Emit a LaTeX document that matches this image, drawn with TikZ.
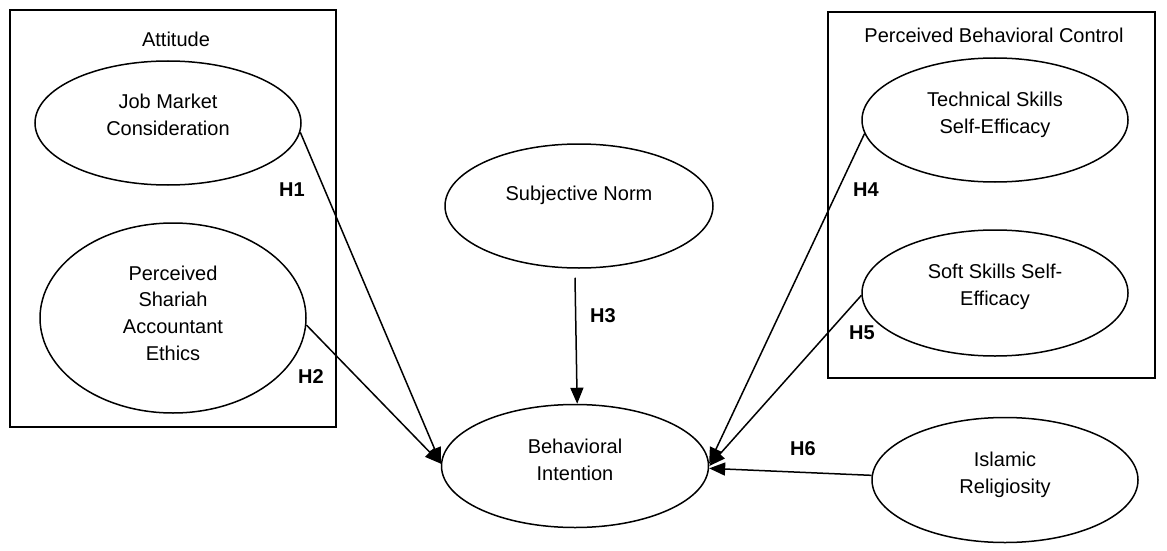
\documentclass[tikz,border=0pt]{standalone}
\usepackage{fontspec}
\setmainfont{Liberation Sans}
\usetikzlibrary{shapes.geometric,arrows.meta}
\begin{document}
\begin{tikzpicture}[x=1pt,y=-1pt,
  lw/.style={line width=1.5pt},
  ell/.style={draw, ellipse, inner sep=0pt, lw},
  txt/.style={align=center, font=\fontsize{20}{26.7}\selectfont},
  hlab/.style={font=\fontsize{20}{24}\selectfont\bfseries},
  arr/.style={lw, -{Triangle[length=16pt,width=13pt]}},
  grp/.style={draw, lw}]
\useasboundingbox (0,0) rectangle (1167,551);
% group boxes
\draw[grp] (10,10) rectangle (336,427);
\draw[grp] (828,12) rectangle (1155,378);
\node[txt] (attT) at (176,39) {Attitude};
\node[txt] (pbcT) at (994,35) {Perceived Behavioral Control};
% ellipses
\node[ell, minimum width=266pt, minimum height=124pt] (jmc) at (168,123) {};
\node[ell, minimum width=266pt, minimum height=190pt] (psae) at (173,318) {};
\node[ell, minimum width=268pt, minimum height=124pt] (sn) at (579,206) {};
\node[ell, minimum width=267pt, minimum height=123pt] (bi) at (575,466) {};
\node[ell, minimum width=266pt, minimum height=124pt] (tsse) at (995,120) {};
\node[ell, minimum width=266pt, minimum height=126pt] (ssse) at (995,293) {};
\node[ell, minimum width=266pt, minimum height=125pt] (ir) at (1005,480) {};
% texts
\node[txt] (jmcT) at (168,115) {Job Market\\Consideration};
\node[txt] (psaeT) at (173,313) {Perceived\\Shariah\\Accountant\\Ethics};
\node[txt] (snT) at (579,195) {Subjective Norm};
\node[txt] (biT) at (575,459.5) {Behavioral\\Intention};
\node[txt] (tsseT) at (995,115) {Technical Skills\\Self-Efficacy};
\node[txt] (ssseT) at (995,286.5) {Soft Skills Self-\\Efficacy};
\node[txt] (irT) at (1005,475) {Islamic\\Religiosity};
% arrows
\draw[arr] (jmc.-4) -- (bi.179);
\draw[arr] (psae.-3) -- (bi.179);
\draw[arr] ([xshift=-4pt,yshift=-9pt]sn.south) -- (bi.88);
\draw[arr] (tsse.186) -- (bi.1);
\draw[arr] (ssse.181) -- (bi.0);
\draw[arr] (ir.178) -- (bi.-1);
% hypothesis labels
\node[hlab] (h1) at (292,190) {H1};
\node[hlab] (h2) at (311,377) {H2};
\node[hlab] (h3) at (603,316) {H3};
\node[hlab] (h4) at (866,190) {H4};
\node[hlab] (h5) at (862,333) {H5};
\node[hlab] (h6) at (803,449) {H6};
\end{tikzpicture}
\end{document}
